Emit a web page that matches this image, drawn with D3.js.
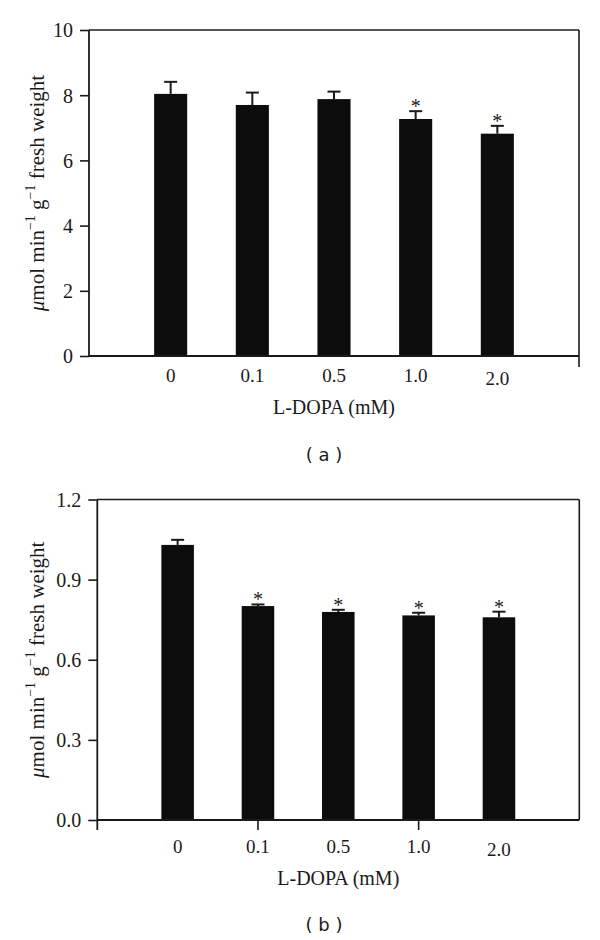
<!DOCTYPE html>
<html>
<head>
<meta charset="utf-8">
<script src="https://cdn.jsdelivr.net/npm/d3@7"></script>
<style>
  html, body { margin: 0; padding: 0; background: #fff; }
  svg { display: block; }
</style>
</head>
<body>
<svg id="chart" width="600" height="940"></svg>
<script>
// ---- data ----
const categories = ["0", "0.1", "0.5", "1.0", "2.0"];
const meanA = [8.04, 7.70, 7.88, 7.27, 6.82];
const errA  = [0.37, 0.38, 0.23, 0.24, 0.24];
const sigA  = [false, false, false, true, true];
const meanB = [1.030, 0.801, 0.779, 0.766, 0.759];
const errB  = [0.019, 0.006, 0.008, 0.010, 0.021];
const sigB  = [false, true, true, true, true];
const ticksA = [0, 2, 4, 6, 8, 10];
const ticksB = [0, 0.3, 0.6, 0.9, 1.2];
const xTitle = "L-DOPA (mM)";
const panelLabels = ["( a )", "( b )"];

const svg = d3.select("#chart");
const serif = "'Liberation Serif', 'Times New Roman', serif";
const sans = "'DejaVu Sans', Verdana, sans-serif";
const ink = "#1a1a1a";
const barFill = "#0b0c0b";
const fs = 19;

function drawPanel(o) {
  const g = svg.append("g");
  const slots = ["_s", ...categories, "_e"];
  const x = d3.scalePoint().domain(slots).range([o.left, o.right]);
  const y = d3.scaleLinear().domain(o.yDomain).range([o.bottom, o.top]);
  const bw = x.step() * 0.405;
  const data = categories.map((c, i) => ({ c, m: o.mean[i], e: o.err[i], s: o.sig[i] }));

  // bars
  g.selectAll("rect.bar").data(data).join("rect")
    .attr("x", d => x(d.c) - bw / 2)
    .attr("y", d => y(d.m))
    .attr("width", bw)
    .attr("height", d => y(0) - y(d.m))
    .attr("fill", barFill);

  // error bars
  const cap = 13;
  g.selectAll("line.stem").data(data).join("line")
    .attr("x1", d => x(d.c)).attr("x2", d => x(d.c))
    .attr("y1", d => y(d.m)).attr("y2", d => y(d.m + d.e))
    .attr("stroke", ink).attr("stroke-width", 2);
  g.selectAll("line.cap").data(data).join("line")
    .attr("x1", d => x(d.c) - cap / 2).attr("x2", d => x(d.c) + cap / 2)
    .attr("y1", d => y(d.m + d.e)).attr("y2", d => y(d.m + d.e))
    .attr("stroke", ink).attr("stroke-width", 2);

  // significance stars
  g.selectAll("text.star").data(data.filter(d => d.s)).join("text")
    .attr("x", d => x(d.c))
    .attr("y", d => y(d.m + d.e) + 2)
    .attr("text-anchor", "middle")
    .attr("font-family", serif).attr("font-size", 20)
    .attr("fill", ink)
    .text("*");

  // y axis
  const yAxis = d3.axisLeft(y).tickValues(o.yTicks).tickSize(9).tickPadding(7)
    .tickFormat(o.fmt);
  const ya = g.append("g").attr("transform", `translate(${o.left},0)`).call(yAxis);
  ya.select(".domain").remove();
  ya.selectAll(".tick line").attr("stroke", ink).attr("stroke-width", 1.6);
  ya.selectAll(".tick text").attr("font-family", serif).attr("font-size", 20)
    .attr("fill", ink).attr("dy", "0.34em");
  g.append("line").attr("x1", o.left).attr("x2", o.left)
    .attr("y1", o.top).attr("y2", o.bottom + o.leftExt)
    .attr("stroke", ink).attr("stroke-width", 1.8);

  // frame top / right / bottom
  g.append("line").attr("x1", o.left).attr("x2", o.right)
    .attr("y1", o.top).attr("y2", o.top).attr("stroke", ink).attr("stroke-width", 1.6);
  g.append("line").attr("x1", o.right).attr("x2", o.right)
    .attr("y1", o.top).attr("y2", o.bottom + o.rightExt).attr("stroke", ink).attr("stroke-width", 1.6);
  g.append("line").attr("x1", o.left).attr("x2", o.right)
    .attr("y1", o.bottom).attr("y2", o.bottom).attr("stroke", ink).attr("stroke-width", 1.8);

  // lower x ticks
  g.selectAll("line.xt").data(o.xTickSlots).join("line")
    .attr("x1", s => x(slots[s])).attr("x2", s => x(slots[s]))
    .attr("y1", o.bottom).attr("y2", o.bottom + 10)
    .attr("stroke", ink).attr("stroke-width", 1.6);

  // x category labels
  g.selectAll("text.xl").data(categories).join("text")
    .attr("x", c => x(c))
    .attr("y", (c, i) => o.labelY + (i === categories.length - 1 ? 3 : 0))
    .attr("text-anchor", "middle")
    .attr("font-family", serif).attr("font-size", fs).attr("fill", ink)
    .text(c => c);

  // x title
  g.append("text").attr("x", (o.left + o.right) / 2).attr("y", o.titleY)
    .attr("text-anchor", "middle").attr("font-family", serif).attr("font-size", 20)
    .attr("fill", ink).text(xTitle);

  // y title
  const yt = g.append("text")
    .attr("transform", `translate(${o.yTitleX},${(o.top + o.bottom) / 2}) rotate(-90)`)
    .attr("text-anchor", "middle").attr("font-family", serif).attr("font-size", 21)
    .attr("fill", ink);
  yt.append("tspan").attr("font-style", "italic").text("\u03bc");
  yt.append("tspan").text("mol min");
  yt.append("tspan").attr("dy", -9).attr("font-size", 14).text("\u22121");
  yt.append("tspan").attr("dy", 9).text("  g");
  yt.append("tspan").attr("dy", -9).attr("font-size", 14).text("\u22121");
  yt.append("tspan").attr("dy", 9).text("  fresh weight");

  // panel label
  g.append("text").attr("x", 324).attr("y", o.panelY)
    .attr("text-anchor", "middle").attr("font-family", sans).attr("font-size", 18)
    .attr("fill", ink).attr("xml:space", "preserve").text(o.panel);
}

drawPanel({
  left: 89, right: 579, top: 30, bottom: 356,
  yDomain: [0, 10], yTicks: ticksA, fmt: d3.format("d"),
  mean: meanA, err: errA, sig: sigA,
  leftExt: 0, rightExt: 11, xTickSlots: [],
  labelY: 382, titleY: 414, yTitleX: 44, panelY: 461, panel: panelLabels[0]
});

drawPanel({
  left: 97.3, right: 579.3, top: 499.5, bottom: 820,
  yDomain: [0, 1.2], yTicks: ticksB, fmt: d3.format(".1f"),
  mean: meanB, err: errB, sig: sigB,
  leftExt: 10, rightExt: 0, xTickSlots: [2, 4],
  labelY: 853, titleY: 885, yTitleX: 44, panelY: 931, panel: panelLabels[1]
});
</script>
</body>
</html>
